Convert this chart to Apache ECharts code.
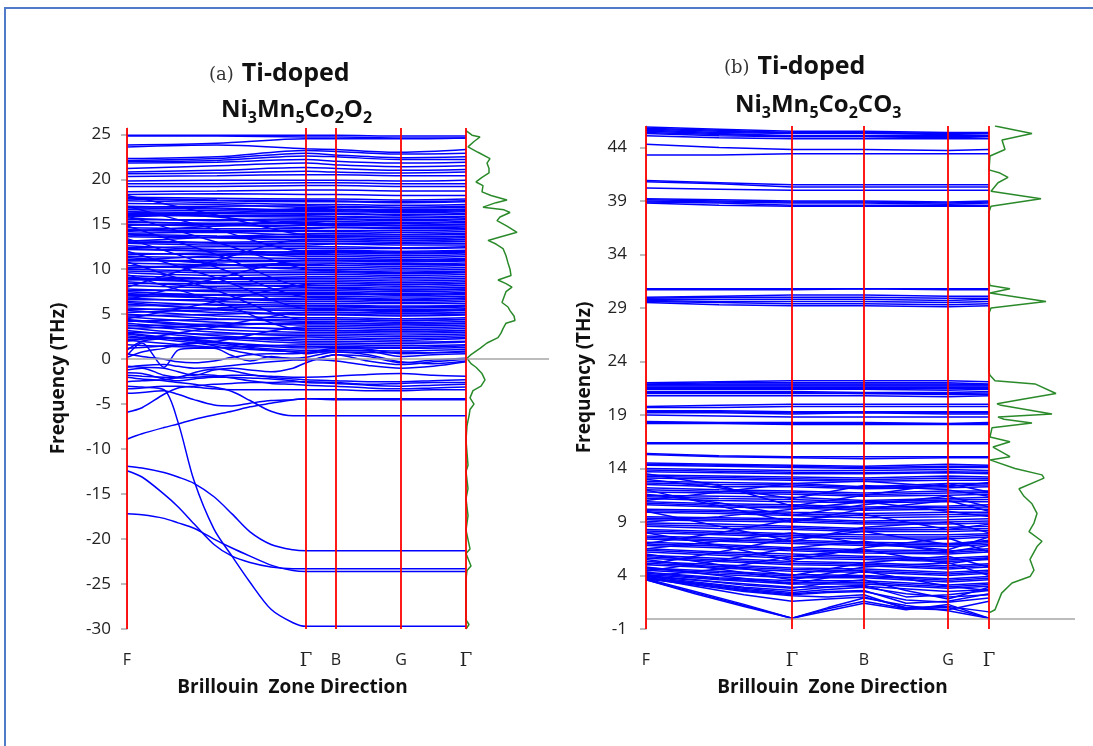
<!DOCTYPE html>
<html>
<head>
<meta charset="utf-8">
<script src="https://cdn.jsdelivr.net/npm/echarts@6/dist/echarts.min.js"></script>
<style>
  html, body { margin: 0; padding: 0; background: #fff; overflow: hidden; }
  #frame { position: absolute; left: 4px; top: 7px; width: 1200px; height: 800px;
           border-left: 2px solid #4f7bc8; border-top: 2px solid #4f7bc8; }
  #chart { position: absolute; left: 0; top: 0; width: 1093px; height: 746px; }
</style>
</head>
<body>
<div id="frame"></div>
<div id="chart"></div>
<script>
// High-symmetry path labels and their positions along the k-path
const kLabels = ['F', 'Γ', 'B', 'G', 'Γ'];
const kTicksA = [0, 179, 209, 274, 339];
const kTicksB = [0, 146, 218, 302, 343];

// k-sampling used by the band arrays (coarse: F, mid, Γ, B, G, Γ)
const kCoarseA = [0, 90, 179, 209, 274, 339];
const kFineA = [0, 15, 37, 51, 67, 87, 105, 123, 144, 166, 179, 209, 241, 274, 306, 339];
const kCoarseB = [0, 73, 146, 218, 302, 343];
const kFineB = [0, 49, 98, 146, 182, 218, 260, 302, 343];

// Frequency tick labels (THz)
const yTicksA = [-30, -25, -20, -15, -10, -5, 0, 5, 10, 15, 20, 25];
const yTicksB = [-1, 4, 9, 14, 19, 24, 29, 34, 39, 44];

// (a) Ti-doped Ni3Mn5Co2O2 : phonon branches on the coarse k grid
const bandsA = [
  [24.9, 24.9, 24.9, 24.9, 24.8, 24.8],
  [24.8, 24.8, 24.7, 24.7, 24.6, 24.6],
  [23.8, 24.0, 24.5, 24.5, 24.5, 24.6],
  [23.6, 23.8, 23.4, 23.3, 23.0, 23.3],
  [22.3, 22.5, 23.2, 23.1, 22.8, 22.9],
  [22.1, 22.3, 22.9, 22.7, 22.4, 22.5],
  [22.0, 22.1, 22.6, 22.5, 22.2, 22.2],
  [21.8, 21.9, 22.2, 22.0, 21.8, 21.9],
  [21.2, 21.5, 21.8, 21.6, 21.4, 21.5],
  [20.8, 21.0, 21.3, 21.2, 21.0, 21.1],
  [20.6, 20.7, 20.9, 20.8, 20.7, 20.8],
  [20.3, 20.4, 20.5, 20.5, 20.4, 20.4],
  [19.8, 19.9, 19.9, 19.9, 19.8, 19.9],
  [19.5, 19.5, 19.6, 19.6, 19.5, 19.5],
  [19.2, 19.2, 19.3, 19.3, 19.2, 19.2],
  [18.6, 18.7, 18.8, 18.8, 18.7, 18.7],
  [18.3, 18.4, 18.3, 18.3, 18.2, 18.2],
  [18.0, 17.9, 17.8, 17.8, 17.7, 17.8],
  [17.9, 17.7, 17.65, 17.6, 17.5, 17.6],
  [17.8, 17.6, 17.5, 17.5, 17.4, 17.5],
  [17.6, 17.4, 17.2, 17.2, 17.1, 17.2],
  [17.3, 17.2, 16.9, 16.9, 16.8, 16.9],
  [16.9, 17.0, 17.05, 17.0, 16.9, 17.0],
  [17.0, 16.8, 16.6, 16.6, 16.5, 16.6],
  [16.8, 16.7, 16.5, 16.5, 16.4, 16.5],
  [15.8, 16.2, 16.75, 16.7, 16.6, 16.7],
  [16.6, 16.5, 16.4, 16.4, 16.3, 16.4],
  [16.4, 16.3, 16.2, 16.2, 16.1, 16.2],
  [16.2, 16.2, 16.1, 16.1, 16.0, 16.1],
  [16.1, 16.0, 15.95, 15.9, 15.8, 15.9],
  [16.0, 15.9, 15.8, 15.8, 15.7, 15.8],
  [15.7, 15.4, 15.5, 15.5, 15.4, 15.5],
  [15.5, 15.5, 15.6, 15.6, 15.5, 15.6],
  [14.2, 14.8, 15.35, 15.3, 15.2, 15.3],
  [15.2, 15.1, 15.2, 15.1, 15.1, 15.2],
  [15.0, 14.8, 14.9, 14.9, 14.8, 14.8],
  [14.9, 15.0, 15.1, 15.0, 14.9, 15.0],
  [15.3, 15.0, 14.65, 14.7, 14.6, 14.7],
  [14.6, 14.5, 14.5, 14.6, 14.5, 14.5],
  [14.4, 14.3, 14.3, 14.3, 14.3, 14.4],
  [14.3, 14.2, 14.2, 14.2, 14.1, 14.2],
  [14.0, 14.1, 13.8, 13.8, 13.8, 13.9],
  [13.1, 13.6, 13.95, 14.0, 13.9, 14.0],
  [13.9, 13.7, 13.6, 13.7, 13.6, 13.6],
  [13.6, 13.5, 13.5, 13.5, 13.4, 13.5],
  [13.8, 13.5, 13.25, 13.3, 13.2, 13.3],
  [13.2, 13.0, 13.1, 13.1, 13.0, 13.1],
  [13.0, 12.9, 12.9, 12.9, 12.9, 12.9],
  [12.9, 12.7, 12.7, 12.8, 12.7, 12.7],
  [12.6, 12.2, 12.3, 12.3, 12.3, 12.4],
  [12.4, 12.5, 12.5, 12.5, 12.4, 12.5],
  [11.0, 11.5, 12.05, 12.1, 12.0, 12.1],
  [12.2, 12.0, 11.9, 11.9, 11.8, 11.9],
  [12.3, 12.0, 11.75, 11.8, 11.7, 11.8],
  [11.8, 11.6, 11.6, 11.6, 11.5, 11.6],
  [11.6, 11.8, 11.4, 11.4, 11.3, 11.4],
  [11.4, 11.3, 11.2, 11.2, 11.1, 11.2],
  [11.1, 10.8, 10.9, 10.9, 10.8, 10.9],
  [10.9, 11.0, 11.0, 11.0, 11.0, 11.1],
  [10.1, 10.4, 10.7, 10.7, 10.6, 10.7],
  [10.7, 10.5, 10.5, 10.6, 10.5, 10.5],
  [10.4, 10.1, 10.2, 10.2, 10.1, 10.2],
  [10.2, 10.4, 10.4, 10.4, 10.3, 10.4],
  [11.3, 10.6, 10.0, 10.0, 9.9, 10.0],
  [10.0, 9.8, 9.8, 9.8, 9.7, 9.8],
  [9.8, 9.6, 9.6, 9.6, 9.5, 9.6],
  [9.6, 9.3, 9.4, 9.4, 9.3, 9.4],
  [9.3, 9.0, 9.0, 9.0, 8.9, 9.0],
  [8.8, 9.0, 9.15, 9.2, 9.1, 9.2],
  [9.0, 8.9, 8.8, 8.8, 8.7, 8.8],
  [8.9, 8.6, 8.6, 8.6, 8.5, 8.6],
  [8.6, 8.1, 8.2, 8.2, 8.1, 8.2],
  [8.4, 8.4, 8.4, 8.4, 8.3, 8.4],
  [9.1, 8.5, 8.0, 8.0, 7.9, 8.0],
  [8.2, 7.9, 7.8, 7.8, 7.7, 7.8],
  [7.8, 7.5, 7.4, 7.4, 7.3, 7.4],
  [7.6, 7.7, 7.6, 7.6, 7.5, 7.6],
  [6.9, 7.1, 7.3, 7.3, 7.2, 7.3],
  [7.5, 7.1, 7.0, 7.0, 6.9, 7.0],
  [7.2, 7.2, 7.2, 7.2, 7.1, 7.2],
  [7.1, 6.8, 6.6, 6.6, 6.5, 6.6],
  [6.8, 6.4, 6.2, 6.2, 6.2, 6.2],
  [7.3, 6.8, 6.4, 6.4, 6.3, 6.4],
  [6.6, 6.6, 6.8, 6.8, 6.7, 6.8],
  [6.4, 6.0, 5.8, 5.8, 5.7, 5.8],
  [5.5, 5.7, 5.95, 5.9, 5.8, 5.9],
  [6.1, 5.6, 5.4, 5.4, 5.3, 5.4],
  [5.9, 6.1, 6.0, 6.0, 5.9, 6.0],
  [5.7, 5.2, 5.0, 5.0, 4.9, 5.0],
  [6.3, 5.5, 4.9, 4.9, 4.8, 4.9],
  [5.4, 4.8, 4.6, 4.6, 4.5, 4.6],
  [5.2, 5.5, 5.6, 5.6, 5.5, 5.6],
  [5.0, 4.5, 4.2, 4.2, 4.1, 4.2],
  [4.8, 5.0, 5.2, 5.2, 5.1, 5.2],
  [4.7, 4.1, 3.8, 3.8, 3.7, 3.8],
  [3.4, 3.7, 4.05, 4.0, 3.9, 4.0],
  [4.3, 3.6, 3.4, 3.4, 3.3, 3.4],
  [4.2, 4.4, 4.4, 4.4, 4.3, 4.4],
  [4.4, 3.7, 3.25, 3.2, 3.1, 3.2],
  [4.0, 3.3, 3.0, 3.0, 2.9, 3.0],
  [3.8, 3.0, 2.6, 2.6, 2.5, 2.6],
  [3.7, 3.9, 4.0, 4.0, 3.9, 4.0],
  [3.5, 2.6, 2.2, 2.2, 2.1, 2.3],
  [2.4, 2.3, 2.45, 2.4, 2.3, 2.4],
  [3.2, 2.3, 1.8, 1.8, 1.7, 1.9],
  [3.0, 2.8, 2.8, 2.8, 2.7, 2.8],
  [2.9, 1.9, 1.4, 1.4, 1.3, 1.5],
  [2.8, 1.8, 1.25, 1.3, 1.2, 1.3],
  [2.6, 1.6, 1.0, 1.0, 0.9, 1.1],
  [2.1, 1.3, 0.8, 0.8, 0.7, 0.8],
  [2.2, 2.4, 2.0, 2.0, 1.9, 2.0],
  [1.6, 1.3, 1.6, 1.6, 1.5, 1.6],
  [15.9, 13.0, 10.0, 9.8, 9.6, 9.7],
  [14.8, 11.6, 8.0, 7.9, 7.7, 7.8],
  [13.4, 10.2, 6.9, 6.8, 6.6, 6.8],
  [12.0, 9.0, 5.6, 5.5, 5.4, 5.5],
  [10.8, 7.6, 4.4, 4.4, 4.3, 4.4],
  [9.4, 6.4, 3.2, 3.2, 3.1, 3.2],
  [18.2, 16.0, 13.8, 13.7, 13.6, 13.7],
  [17.0, 14.4, 12.0, 12.0, 11.9, 12.0],
  [16.4, 15.8, 15.0, 15.0, 14.9, 15.0],
  [2.0, 3.6, 5.2, 5.2, 5.1, 5.2],
  [4.5, 6.4, 8.3, 8.4, 8.3, 8.4],
  [6.6, 9.0, 11.0, 11.0, 10.9, 11.0],
  [8.0, 11.0, 13.3, 13.3, 13.2, 13.3],
  [1.2, 2.0, 3.6, 3.6, 3.5, 3.6]
];

// (a) dispersive low-lying branches on the fine k grid
const bandsAFine = [
  [-11.9, -12.1, -12.6, -13.1, -13.8, -15.3, -17.2, -19.2, -20.6, -21.2, -21.3, -21.3, -21.3, -21.3, -21.3, -21.3],
  [-12.4, -13.1, -15.0, -16.4, -18.3, -20.6, -21.9, -22.6, -23.1, -23.3, -23.3, -23.3, -23.3, -23.3, -23.3, -23.3],
  [-17.2, -17.3, -17.7, -18.2, -18.8, -20.0, -21.0, -21.9, -22.9, -23.5, -23.6, -23.6, -23.6, -23.6, -23.6, -23.6],
  [-3.0, -3.1, -3.4, -7.0, -13.5, -18.9, -21.9, -24.8, -27.8, -29.3, -29.7, -29.7, -29.7, -29.7, -29.7, -29.7],
  [-8.9, -8.3, -7.6, -7.2, -6.7, -6.2, -5.8, -5.3, -4.9, -4.5, -4.4, -4.4, -4.4, -4.4, -4.4, -4.4],
  [-5.9, -5.4, -3.9, -3.2, -3.0, -2.8, -2.7, -2.6, -2.6, -2.5, -2.5, -2.6, -2.8, -2.7, -2.6, -2.6],
  [-3.8, -3.7, -3.5, -3.9, -4.5, -5.1, -5.2, -4.9, -4.6, -4.5, -4.4, -4.5, -4.5, -4.5, -4.5, -4.5],
  [-2.0, -2.2, -2.4, -2.6, -2.8, -3.1, -3.6, -4.6, -5.8, -6.3, -6.3, -6.3, -6.3, -6.3, -6.3, -6.3],
  [0.4, 1.8, -0.9, 1.0, 1.2, 1.2, 0.4, -0.2, 0.3, 0.0, -0.1, 0.5, -0.2, -0.6, -0.3, 0.0],
  [-0.8, -0.9, -1.0, -1.4, -1.8, -1.2, -1.0, -1.2, -1.4, -1.0, -0.4, 0.5, 0.3, -0.4, -0.1, 0.1],
  [-1.2, -1.0, -1.8, -2.0, -1.5, -1.1, -1.3, -1.7, -2.0, -2.2, -2.3, -2.4, -2.5, -2.5, -2.4, -2.3],
  [-1.5, -1.6, -2.2, -2.4, -2.2, -2.0, -2.0, -2.1, -2.2, -2.4, -2.6, -2.7, -2.9, -3.0, -2.9, -2.8],
  [-2.5, -2.4, -2.3, -2.0, -1.7, -1.8, -2.1, -2.4, -2.7, -2.8, -2.9, -3.0, -3.2, -3.3, -3.2, -3.1],
  [-0.9, -0.7, -0.6, -0.8, -1.0, -0.9, -0.7, -0.5, -0.3, -0.1, 0.0, -0.2, -0.7, -1.0, -0.8, -0.3],
  [0.2, 0.8, 1.2, 1.6, 1.8, 1.5, 1.0, 0.6, 0.2, 0.1, 0.2, 0.8, 0.5, -0.3, -0.5, -0.2],
  [1.0, 2.0, 2.3, 2.4, 2.2, 2.0, 1.6, 1.2, 1.0, 0.8, 0.6, 1.0, 0.9, 0.3, 0.5, 0.6],
  [-3.3, -3.2, -3.0, -3.0, -3.1, -3.3, -3.4, -3.4, -3.4, -3.4, -3.4, -3.4, -3.5, -3.5, -3.4, -3.4],
  [-1.8, -1.9, -2.0, -2.1, -2.0, -1.9, -1.8, -1.8, -1.9, -2.0, -2.0, -1.9, -1.7, -1.6, -1.8, -1.9],
  [0.6, 0.3, 0.0, -0.3, -0.4, -0.2, 0.2, 0.5, 0.6, 0.6, 0.7, 1.2, 1.1, 0.6, 0.7, 0.9]
];

// (b) Ti-doped Ni3Mn5Co2CO3 : phonon branches on the coarse k grid
const bandsB = [
  [45.9, 45.7, 45.5, 45.5, 45.4, 45.4],
  [45.8, 45.6, 45.4, 45.4, 45.3, 45.3],
  [45.7, 45.5, 45.35, 45.35, 45.3, 45.3],
  [45.6, 45.4, 45.3, 45.3, 45.2, 45.3],
  [45.5, 45.3, 45.1, 45.1, 45.1, 45.1],
  [45.4, 45.2, 45.05, 45.05, 45.0, 45.05],
  [45.3, 45.1, 45.0, 45.0, 44.9, 45.0],
  [45.1, 44.9, 44.8, 44.8, 44.8, 44.8],
  [44.3, 44.0, 43.8, 43.8, 43.7, 43.8],
  [43.3, 43.3, 43.4, 43.4, 43.4, 43.4],
  [40.9, 40.7, 40.5, 40.5, 40.5, 40.5],
  [40.8, 40.6, 40.3, 40.3, 40.3, 40.3],
  [40.2, 40.1, 40.0, 40.0, 40.0, 40.0],
  [39.2, 39.1, 39.0, 39.0, 38.9, 39.0],
  [39.1, 39.0, 38.9, 38.9, 38.8, 38.9],
  [39.0, 38.9, 38.8, 38.8, 38.7, 38.8],
  [38.9, 38.8, 38.6, 38.6, 38.6, 38.6],
  [38.8, 38.6, 38.5, 38.5, 38.5, 38.5],
  [30.8, 30.8, 30.8, 30.8, 30.8, 30.8],
  [30.7, 30.7, 30.7, 30.8, 30.7, 30.7],
  [30.0, 30.1, 30.2, 30.2, 30.1, 30.1],
  [29.9, 30.0, 30.0, 30.0, 29.9, 29.9],
  [29.8, 29.8, 29.8, 29.8, 29.7, 29.8],
  [29.7, 29.6, 29.6, 29.6, 29.5, 29.6],
  [29.6, 29.5, 29.4, 29.4, 29.3, 29.4],
  [29.5, 29.3, 29.2, 29.2, 29.1, 29.2],
  [22.0, 22.1, 22.2, 22.2, 22.2, 22.1],
  [21.9, 22.0, 22.0, 22.0, 22.0, 21.9],
  [21.85, 21.9, 21.9, 21.9, 21.9, 21.85],
  [21.8, 21.8, 21.8, 21.8, 21.8, 21.8],
  [21.7, 21.7, 21.7, 21.7, 21.7, 21.7],
  [21.6, 21.6, 21.6, 21.6, 21.6, 21.6],
  [21.5, 21.5, 21.5, 21.5, 21.45, 21.5],
  [21.4, 21.4, 21.4, 21.4, 21.3, 21.4],
  [21.2, 21.2, 21.2, 21.1, 21.1, 21.2],
  [21.1, 21.1, 21.1, 21.0, 21.0, 21.05],
  [21.0, 21.0, 21.0, 21.0, 20.9, 20.9],
  [20.8, 20.8, 20.8, 20.8, 20.7, 20.8],
  [19.8, 19.9, 20.0, 20.0, 20.0, 20.0],
  [19.7, 19.7, 19.8, 19.8, 19.8, 19.8],
  [19.4, 19.4, 19.3, 19.3, 19.3, 19.3],
  [19.3, 19.3, 19.2, 19.25, 19.2, 19.2],
  [19.2, 19.2, 19.1, 19.2, 19.1, 19.1],
  [19.0, 18.9, 18.8, 18.8, 18.8, 18.8],
  [18.4, 18.3, 18.3, 18.3, 18.2, 18.3],
  [18.3, 18.25, 18.2, 18.2, 18.15, 18.2],
  [18.2, 18.2, 18.1, 18.1, 18.1, 18.1],
  [16.4, 16.4, 16.4, 16.4, 16.4, 16.4],
  [16.3, 16.3, 16.3, 16.3, 16.3, 16.3],
  [15.4, 15.2, 15.1, 15.1, 15.1, 15.1],
  [15.3, 15.1, 15.0, 14.9, 15.0, 15.0],
  [14.5, 14.4, 14.3, 14.2, 14.4, 14.3],
  [14.4, 14.3, 14.2, 14.1, 14.2, 14.2],
  [14.3, 14.2, 14.1, 14.0, 14.1, 14.1],
  [14.0, 13.9, 13.8, 13.8, 13.9, 13.8],
  [13.85, 13.75, 13.65, 13.6, 13.7, 13.65],
  [13.7, 13.6, 13.5, 13.5, 13.6, 13.5],
  [13.4, 13.3, 13.2, 13.1, 13.3, 13.2],
  [13.25, 13.15, 13.05, 12.95, 13.1, 13.05],
  [13.1, 13.0, 12.9, 12.8, 12.9, 12.9],
  [12.8, 12.7, 12.6, 12.3, 12.6, 12.6],
  [12.65, 12.5, 12.45, 12.2, 12.4, 12.45],
  [12.5, 12.3, 12.3, 12.1, 12.2, 12.3],
  [12.2, 12.0, 11.9, 11.7, 11.9, 11.9],
  [12.0, 11.85, 11.75, 11.55, 11.7, 11.75],
  [11.8, 11.7, 11.6, 11.4, 11.5, 11.6],
  [11.5, 11.4, 11.3, 11.0, 11.2, 11.3],
  [11.35, 11.2, 11.1, 10.9, 11.05, 11.1],
  [11.2, 11.0, 10.9, 10.8, 10.9, 10.9],
  [10.9, 10.7, 10.6, 10.4, 10.5, 10.6],
  [10.75, 10.55, 10.45, 10.25, 10.35, 10.4],
  [10.6, 10.4, 10.3, 10.1, 10.2, 10.2],
  [10.2, 10.1, 9.9, 9.8, 9.9, 9.9],
  [10.05, 9.95, 9.75, 9.6, 9.7, 9.75],
  [9.9, 9.8, 9.6, 9.4, 9.5, 9.6],
  [9.5, 9.4, 9.3, 9.1, 9.2, 9.3],
  [9.35, 9.25, 9.15, 8.95, 9.0, 9.1],
  [9.2, 9.1, 9.0, 8.8, 8.8, 8.9],
  [8.9, 8.8, 8.6, 8.4, 8.5, 8.6],
  [8.75, 8.6, 8.45, 8.25, 8.3, 8.4],
  [8.6, 8.4, 8.3, 8.1, 8.1, 8.2],
  [8.3, 8.1, 7.9, 7.8, 7.8, 7.9],
  [8.15, 7.95, 7.75, 7.6, 7.6, 7.75],
  [8.0, 7.8, 7.6, 7.4, 7.4, 7.6],
  [7.7, 7.5, 7.3, 7.1, 7.0, 7.2],
  [7.55, 7.35, 7.15, 6.95, 6.85, 7.05],
  [7.4, 7.2, 7.0, 6.8, 6.7, 6.9],
  [7.1, 6.9, 6.6, 6.4, 6.3, 6.5],
  [6.95, 6.75, 6.45, 6.25, 6.15, 6.35],
  [6.8, 6.6, 6.3, 6.1, 6.0, 6.2],
  [6.5, 6.2, 6.0, 5.8, 5.6, 5.8],
  [6.35, 6.05, 5.8, 5.65, 5.45, 5.65],
  [6.2, 5.9, 5.6, 5.5, 5.3, 5.5],
  [5.9, 5.6, 5.3, 5.2, 4.9, 5.1],
  [5.75, 5.45, 5.15, 5.05, 4.75, 4.95],
  [5.6, 5.3, 5.0, 4.9, 4.6, 4.8],
  [5.3, 5.0, 4.7, 4.6, 4.3, 4.5],
  [5.15, 4.85, 4.55, 4.45, 4.15, 4.35],
  [5.0, 4.7, 4.4, 4.3, 4.0, 4.2],
  [4.7, 4.4, 4.1, 4.0, 3.7, 3.9],
  [4.6, 4.25, 3.95, 3.9, 3.55, 3.75],
  [4.5, 4.1, 3.8, 3.8, 3.4, 3.6],
  [4.3, 3.8, 3.5, 3.5, 3.1, 3.3],
  [4.2, 3.7, 3.35, 3.35, 2.95, 3.15],
  [4.1, 3.6, 3.2, 3.2, 2.8, 3.0],
  [3.9, 3.4, 2.9, 3.0, 2.5, 2.7],
  [12.0, 10.5, 9.0, 10.2, 11.0, 10.0],
  [10.0, 8.6, 7.2, 8.5, 9.0, 8.0],
  [8.0, 6.8, 5.4, 6.6, 7.5, 6.2],
  [6.0, 5.0, 4.0, 5.2, 5.8, 4.8],
  [4.8, 4.0, 3.2, 4.4, 3.0, 2.6],
  [13.0, 12.2, 11.2, 12.4, 12.0, 11.4],
  [11.0, 11.8, 12.6, 12.8, 12.3, 12.7],
  [7.0, 8.0, 9.2, 9.7, 8.3, 8.8],
  [5.0, 6.2, 7.5, 8.1, 6.9, 7.3],
  [3.9, 4.6, 5.8, 6.4, 5.1, 5.6],
  [9.0, 9.5, 10.2, 10.9, 10.0, 9.5],
  [13.5, 12.4, 10.5, 11.5, 12.6, 11.8],
  [6.5, 7.2, 8.0, 7.0, 6.4, 7.6],
  [4.4, 5.4, 6.6, 7.2, 6.2, 6.8],
  [11.6, 10.8, 9.6, 10.6, 11.4, 10.4],
  [5.5, 4.6, 3.6, 4.8, 5.2, 4.0]
];

// (b) acoustic and low optical branches on the fine k grid
const bandsBFine = [
  [3.6, 2.4, 1.2, 0.0, 0.9, 1.6, 0.9, 1.0, 0.0],
  [3.6, 2.3, 1.1, 0.0, 1.0, 1.9, 1.2, 0.7, 0.0],
  [3.7, 2.5, 1.3, 0.0, 0.7, 1.4, 0.8, 1.3, 0.0],
  [3.8, 3.0, 2.2, 1.6, 1.8, 2.0, 1.0, 1.1, 0.6],
  [3.8, 3.2, 2.7, 2.3, 2.5, 2.6, 1.4, 1.6, 2.3],
  [3.7, 3.1, 2.5, 2.1, 2.0, 2.2, 0.9, 0.8, 1.6],
  [3.9, 3.4, 2.9, 2.6, 2.9, 3.1, 2.0, 2.2, 2.6],
  [4.0, 3.6, 3.1, 2.8, 3.3, 3.6, 2.6, 1.8, 2.9],
  [3.8, 3.3, 2.8, 2.4, 2.7, 2.9, 2.3, 2.0, 2.2],
  [3.7, 3.2, 2.6, 2.2, 2.4, 2.5, 1.7, 1.5, 1.9]
];

// Phonon density of states (arbitrary units) against frequency
const dosAFreq = [25.4, 24.9, 24.7, 24.2, 23.6, 23.0, 22.3, 21.8, 21.2, 20.7, 20.2, 19.7, 19.3, 18.6, 18.2, 17.7,
  17.4, 16.9, 16.6, 16.3, 15.8, 15.4, 14.8, 14.1, 13.6, 13.2, 12.8, 12.3, 11.5, 10.7, 10.0, 9.3, 8.8, 8.4, 8.0,
  7.5, 6.9, 6.3, 5.8, 5.4, 4.8, 4.3, 4.0, 3.4, 2.9, 2.4, 1.8, 1.2, 0.5, 0.1, -0.5, -0.9, -1.6, -2.3, -3.0, -3.5,
  -4.3, -5.0, -5.6, -6.3, -7.4, -9.0, -11.8, -12.5, -14.4, -15.5, -17.4, -19.0, -21.1, -21.6, -23.0, -23.5,
  -24.5, -29.0, -29.5, -30.0];
const dosAVal = [0, 0.6, 1.4, 0.8, 0.2, 1.2, 2.4, 2.1, 2.3, 2.3, 1.6, 1.0, 1.7, 1.6, 2.5, 4.1,
  3.0, 1.7, 3.8, 4.4, 3.4, 3.1, 4.1, 5.1, 3.5, 2.2, 3.0, 3.7, 4.0, 4.2, 4.4, 4.5, 3.2, 4.0, 4.6,
  4.0, 3.8, 3.6, 4.2, 4.4, 4.8, 4.9, 4.0, 3.7, 3.5, 3.2, 2.1, 1.4, 0.5, 0.1, 0.5, 1.0, 1.6, 1.9, 1.5, 0.7,
  0.4, 0.8, 0.4, 0.3, 0.1, 0, 0.2, 0, 0.2, 0, 0.2, 0, 0.4, 0, 0.5, 0.1,
  0, 0, 0.3, 0];
const dosBFreq = [46.0, 45.3, 44.7, 43.8, 43.2, 41.9, 41.6, 41.2, 40.7, 39.9, 39.2, 38.5, 38.0, 31.5, 31.1,
  30.8, 30.4, 29.6, 29.0, 28.5, 23.0, 22.7, 22.2, 21.9, 21.0, 20.5, 20.05, 19.9, 19.1, 18.8, 18.6, 18.25, 17.8,
  16.95, 16.5, 16.0, 15.1, 14.8, 14.0, 13.4, 13.1, 12.1, 11.4, 10.7, 9.8, 8.9, 8.1, 7.2, 6.7, 5.5, 4.5, 3.9,
  3.3, 2.35, 0.8, 0.5];
const dosBVal = [0.6, 4.3, 1.3, 1.6, 0.1, 0, 1.1, 1.9, 0.9, 0.2, 5.2, 0.2, 0, 0, 0.1,
  2.1, 0.1, 5.7, 0.2, 0, 0, 0.1, 0.6, 4.6, 6.7, 3.5, 0.8, 1.2, 6.3, 0.9, 1.5, 4.3, 0.3,
  0.1, 2.1, 0.4, 2.1, 0.1, 2.6, 5.3, 5.5, 3.0, 3.5, 4.3, 4.8, 4.5, 4.0, 5.3, 4.8, 4.1, 4.5, 4.1,
  2.3, 1.26, 0.6, 0];

const BLUE = '#0000ff', RED = '#ff0000', GREEN = '#2a8a2a', GREY = '#a6a6a6';
const FONT = 'Open Sans';

function bandSeries(grid, bands, xIdx, smooth) {
  return bands.map(vals => ({
    type: 'line', xAxisIndex: xIdx, yAxisIndex: xIdx, z: 2, color: BLUE,
    data: vals.map((v, i) => [grid[i], v]),
    symbol: 'none', smooth: smooth, silent: true,
    lineStyle: { color: BLUE, width: 1.5 }
  }));
}

function helperLine(idx, data, color, width, z) {
  return {
    type: 'line', xAxisIndex: idx, yAxisIndex: idx, data: [], z: z, silent: true,
    markLine: { silent: true, symbol: 'none', animation: false, label: { show: false },
      lineStyle: { color: color, width: width, type: 'solid' }, data: data }
  };
}

function dosSeries(idx, freq, val) {
  return {
    type: 'line', xAxisIndex: idx, yAxisIndex: idx, z: 4, silent: true, symbol: 'none', color: GREEN,
    data: freq.map((f, i) => [val[i], f]),
    lineStyle: { color: GREEN, width: 1.5 }
  };
}

const kFormatter = ticks => v => {
  const lab = kLabels[ticks.indexOf(v)];
  return lab === 'Γ' ? '{g|Γ}' : lab;
};

function bandXAxis(idx, ticks, max, namePad) {
  return {
    type: 'value', gridIndex: idx, min: 0, max: max,
    axisLine: { show: false, onZero: false }, axisTick: { show: false }, splitLine: { show: false },
    axisLabel: { customValues: ticks, formatter: kFormatter(ticks), margin: 23,
      fontFamily: FONT, fontSize: 16, color: '#222',
      rich: { g: { fontFamily: 'DejaVu Serif', fontSize: 18, color: '#222' } } },
    name: 'Brillouin  Zone Direction', nameLocation: 'middle', nameGap: 49,
    nameTextStyle: { fontFamily: FONT, fontWeight: 'bold', fontSize: 19, color: '#111', padding: namePad }
  };
}

function bandYAxis(idx, min, max, ticks, nameGap, margin) {
  return {
    type: 'value', gridIndex: idx, min: min, max: max,
    axisLine: { show: true, lineStyle: { color: GREY, width: 1 } },
    axisTick: { show: true, length: 6, customValues: ticks, lineStyle: { color: GREY, width: 1.5 } },
    axisLabel: { customValues: ticks, margin: margin, fontFamily: FONT, fontSize: 17, color: '#222' },
    splitLine: { show: false },
    name: 'Frequency (THz)', nameLocation: 'middle', nameRotate: 90, nameGap: nameGap,
    nameTextStyle: { fontFamily: FONT, fontWeight: 'bold', fontSize: 19, color: '#111' }
  };
}

function hiddenAxis(idx, min, max) {
  return { type: 'value', gridIndex: idx, min: min, max: max, show: false,
    axisLine: { onZero: false }, splitLine: { show: false } };
}

const titleRich = {
  p: { fontFamily: 'DejaVu Serif', fontWeight: 'normal', fontSize: 18, color: '#333', padding: [3, 8, 0, 0] },
  b: { fontFamily: FONT, fontWeight: 'bold', fontSize: 25, color: '#111' },
  n: { fontFamily: FONT, fontWeight: 'bold', fontSize: 24, color: '#111', lineHeight: 28, verticalAlign: 'top' },
  s: { fontFamily: FONT, fontWeight: 'bold', fontSize: 16, color: '#111', lineHeight: 20, verticalAlign: 'bottom', padding: [14, 0, 0, 0] }
};

const option = {
  animation: false,
  backgroundColor: 'transparent',
  title: [
    { text: '{p|(a)}{b|Ti-doped}', left: 204, top: 56, textStyle: { rich: titleRich } },
    { text: '{n|Ni}{s|3}{n|Mn}{s|5}{n|Co}{s|2}{n|O}{s|2}', left: 216, top: 93, textStyle: { rich: titleRich } },
    { text: '{p|(b)}{b|Ti-doped}', left: 719, top: 49, textStyle: { rich: titleRich } },
    { text: '{n|Ni}{s|3}{n|Mn}{s|5}{n|Co}{s|2}{n|CO}{s|3}', left: 730, top: 88, textStyle: { rich: titleRich } }
  ],
  grid: [
    { left: 127, top: 128, width: 339, height: 501 },
    { left: 466, top: 128, width: 83, height: 501 },
    { left: 646, top: 126, width: 343, height: 503 },
    { left: 989, top: 126, width: 86, height: 503 }
  ],
  xAxis: [
    bandXAxis(0, kTicksA, 339, [0, 8, 0, 0]),
    hiddenAxis(1, 0, 8.3),
    bandXAxis(2, kTicksB, 343, [0, 0, 0, 30]),
    hiddenAxis(3, 0, 8.6)
  ],
  yAxis: [
    bandYAxis(0, -30, 25.7, yTicksA, 59, 16),
    hiddenAxis(1, -30, 25.7),
    bandYAxis(2, -1, 46, yTicksB, 52, 19),
    hiddenAxis(3, -1, 46)
  ],
  series: [
    helperLine(0, [{ yAxis: 0 }], GREY, 1.5, 1),
    helperLine(1, [{ yAxis: 0 }], GREY, 1.5, 1),
    helperLine(2, [{ yAxis: 0 }], GREY, 1.5, 1),
    helperLine(3, [{ yAxis: 0 }], GREY, 1.5, 1),
    ...bandSeries(kCoarseA, bandsA, 0, 0.3),
    ...bandSeries(kFineA, bandsAFine, 0, 0.3),
    ...bandSeries(kCoarseB, bandsB, 2, false),
    ...bandSeries(kFineB, bandsBFine, 2, false),
    helperLine(0, kTicksA.map(k => ({ xAxis: k })), RED, 1.8, 3),
    helperLine(2, kTicksB.map(k => ({ xAxis: k })), RED, 1.8, 3),
    dosSeries(1, dosAFreq, dosAVal),
    dosSeries(3, dosBFreq, dosBVal)
  ]
};

const chart = echarts.init(document.getElementById('chart'), null, { renderer: 'canvas' });
chart.setOption(option);
</script>
</body>
</html>
